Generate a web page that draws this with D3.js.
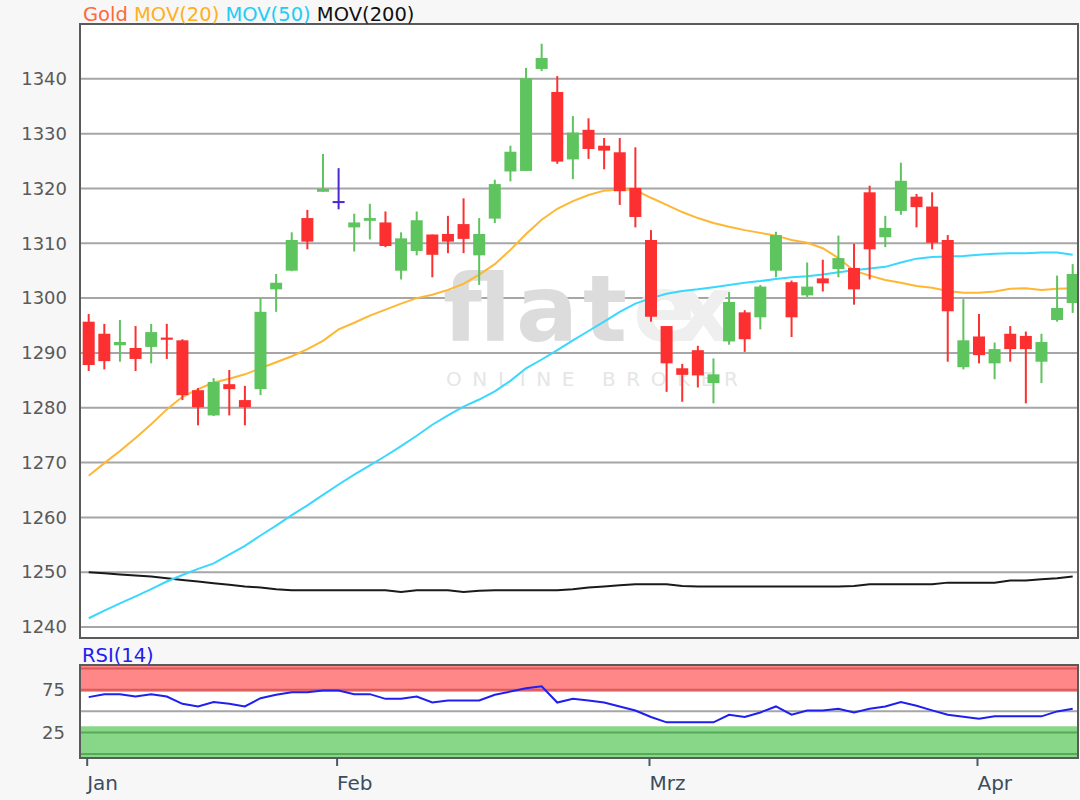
<!DOCTYPE html>
<html>
<head>
<meta charset="utf-8">
<script src="https://cdn.jsdelivr.net/npm/d3@7"></script>
<style>
  body { margin: 0; background: #f7f7f7; }
  text { font-family: "DejaVu Sans", Verdana, sans-serif; }
</style>
</head>
<body>
<script>
// month labels and the candle index where each month starts
var monthLabels = ["Jan", "Feb", "Mrz", "Apr"];
var monthIdx = [0, 16, 36, 57];
var priceTicks = [1240, 1250, 1260, 1270, 1280, 1290, 1300, 1310, 1320, 1330, 1340];
var rsiTicks = [25, 75];

// daily candles (gold, Jan - Apr)
var open = [1295.7, 1293.5, 1291.4, 1290.9, 1291.1, 1292.8, 1292.3, 1283.2, 1278.6, 1284.3,
            1281.4, 1283.4, 1301.6, 1305.0, 1314.6, 1319.4, 1317.7, 1312.9, 1314.1, 1313.8,
            1305.0, 1308.6, 1311.6, 1311.7, 1313.5, 1307.8, 1314.5, 1323.1, 1323.2, 1341.8,
            1337.6, 1325.3, 1330.7, 1327.8, 1326.6, 1320.1, 1310.6, 1294.9, 1287.2, 1290.5,
            1284.5, 1292.1, 1297.4, 1296.5, 1305.0, 1302.9, 1300.5, 1303.6, 1305.3, 1305.5,
            1319.3, 1311.1, 1315.9, 1318.5, 1316.7, 1310.6, 1287.4, 1293.0, 1288.1, 1293.5,
            1293.1, 1288.4, 1296.0, 1299.1];
var high = [1297.1, 1295.3, 1296.0, 1294.9, 1295.3, 1295.3, 1292.5, 1283.6, 1285.4, 1286.9,
            1284.0, 1300.0, 1304.4, 1312.0, 1316.1, 1326.3, 1323.7, 1315.4, 1317.2, 1315.8,
            1312.0, 1315.8, 1311.6, 1315.0, 1318.2, 1314.6, 1321.6, 1327.8, 1342.0, 1346.4,
            1340.5, 1333.2, 1332.8, 1329.2, 1329.2, 1327.5, 1312.4, 1294.9, 1288.0, 1291.3,
            1289.0, 1301.1, 1297.8, 1302.4, 1312.1, 1303.2, 1306.5, 1307.0, 1311.4, 1309.9,
            1320.5, 1315.0, 1324.7, 1319.0, 1319.3, 1311.5, 1299.8, 1297.1, 1291.9, 1294.9,
            1293.9, 1293.5, 1304.1, 1306.2];
var low = [1286.7, 1287.0, 1288.4, 1286.7, 1288.1, 1288.9, 1281.4, 1276.8, 1278.5, 1278.6,
           1276.8, 1282.3, 1297.5, 1304.9, 1308.9, 1319.4, 1316.2, 1308.5, 1310.7, 1309.3,
           1303.4, 1307.8, 1303.8, 1308.2, 1308.2, 1302.4, 1313.7, 1321.3, 1323.2, 1341.4,
           1324.5, 1321.7, 1325.4, 1323.5, 1317.0, 1312.9, 1295.7, 1282.9, 1281.1, 1283.7,
           1280.8, 1291.5, 1290.2, 1294.3, 1303.8, 1292.9, 1300.2, 1301.2, 1303.8, 1298.8,
           1303.4, 1309.3, 1315.2, 1312.9, 1308.9, 1288.4, 1287.0, 1288.1, 1285.2, 1288.4,
           1280.8, 1284.5, 1295.7, 1297.3];
var close = [1287.8, 1288.5, 1292.0, 1288.9, 1293.8, 1292.4, 1282.3, 1280.1, 1284.7, 1283.4,
             1280.1, 1297.5, 1302.8, 1310.6, 1310.3, 1319.9, 1317.7, 1313.8, 1314.6, 1309.5,
             1310.9, 1314.2, 1307.9, 1310.3, 1310.8, 1311.7, 1320.8, 1326.7, 1340.1, 1343.8,
             1324.9, 1330.2, 1327.2, 1326.9, 1319.5, 1314.8, 1296.6, 1288.1, 1286.0, 1285.9,
             1286.1, 1299.3, 1292.5, 1302.1, 1311.5, 1296.5, 1302.1, 1302.7, 1307.3, 1301.6,
             1308.9, 1312.8, 1321.4, 1316.6, 1310.1, 1297.6, 1292.3, 1289.6, 1290.7, 1290.7,
             1290.7, 1292.0, 1298.2, 1304.4];

// moving averages
var mov20 = [1267.6, 1269.9, 1272.1, 1274.5, 1277.0, 1279.7, 1282.0, 1283.4, 1284.6, 1285.3,
             1286.1, 1287.2, 1288.3, 1289.4, 1290.7, 1292.2, 1294.3, 1295.5, 1296.8, 1297.9,
             1299.0, 1300.0, 1300.6, 1301.5, 1302.6, 1304.3, 1306.2, 1308.8, 1311.7, 1314.3,
             1316.3, 1317.7, 1318.8, 1319.6, 1319.8, 1319.7, 1318.3, 1317.0, 1315.7, 1314.6,
             1313.7, 1313.0, 1312.4, 1311.9, 1311.4, 1310.6, 1310.1, 1309.1, 1307.3, 1305.0,
             1304.1, 1303.3, 1302.8, 1302.2, 1301.9, 1301.3, 1301.0, 1301.0, 1301.2, 1301.7,
             1301.8, 1301.5, 1301.7, 1301.8];
var mov50 = [1241.6, 1243.0, 1244.3, 1245.6, 1246.9, 1248.3, 1249.5, 1250.6, 1251.6, 1253.2,
             1254.8, 1256.7, 1258.5, 1260.4, 1262.2, 1264.1, 1266.0, 1267.8, 1269.5, 1271.2,
             1273.0, 1274.9, 1276.9, 1278.6, 1280.2, 1281.5, 1283.0, 1284.9, 1287.2, 1288.8,
             1290.5, 1292.3, 1294.0, 1295.7, 1297.5, 1299.0, 1300.0, 1300.8, 1301.3, 1301.6,
             1302.0, 1302.4, 1302.8, 1303.1, 1303.5, 1303.8, 1304.0, 1304.3, 1304.7, 1305.1,
             1305.4, 1305.7, 1306.5, 1307.2, 1307.5, 1307.6, 1307.7, 1307.9, 1308.1, 1308.2,
             1308.2, 1308.3, 1308.3, 1307.9];
var mov200 = [1250.0, 1249.8, 1249.6, 1249.4, 1249.2, 1248.9, 1248.6, 1248.3, 1248.0, 1247.7,
              1247.4, 1247.2, 1246.9, 1246.7, 1246.7, 1246.7, 1246.7, 1246.7, 1246.7, 1246.7,
              1246.4, 1246.7, 1246.7, 1246.7, 1246.4, 1246.6, 1246.7, 1246.7, 1246.7, 1246.7,
              1246.7, 1246.9, 1247.2, 1247.4, 1247.6, 1247.8, 1247.8, 1247.8, 1247.5, 1247.4,
              1247.4, 1247.4, 1247.4, 1247.4, 1247.4, 1247.4, 1247.4, 1247.4, 1247.4, 1247.5,
              1247.8, 1247.8, 1247.8, 1247.8, 1247.8, 1248.1, 1248.1, 1248.1, 1248.1, 1248.5,
              1248.5, 1248.7, 1248.9, 1249.2];
var rsi14 = [66.5, 70.0, 70.0, 67.2, 70.0, 67.2, 58.7, 55.6, 60.7, 58.7,
             55.6, 65.3, 69.2, 72.3, 72.3, 74.2, 74.2, 70.0, 70.0, 64.5,
             64.5, 67.2, 60.2, 62.6, 62.6, 62.6, 69.2, 73.0, 77.0, 79.3,
             60.2, 64.5, 62.6, 60.2, 55.6, 50.9, 43.3, 37.0, 37.0, 37.0,
             37.0, 45.9, 43.3, 48.6, 55.6, 45.9, 50.9, 50.9, 52.9, 48.6,
             52.9, 55.6, 60.7, 56.4, 51.0, 45.9, 43.5, 41.3, 44.0, 44.0,
             44.0, 44.0, 49.8, 52.9];

var W = 1080, H = 800;
var panel = {left: 80, right: 1078, top: 24, bottom: 638};
var rsiPanel = {top: 665, bottom: 758};

var svg = d3.select("body").append("svg")
    .attr("width", W)
    .attr("height", H);

svg.append("rect").attr("width", W).attr("height", H).attr("fill", "#f7f7f7");

// scales
var x = d3.scaleLinear().domain([0, open.length - 1]).range([88.7, 1072.7]);
var y = d3.scaleLinear().domain([1238, 1350]).range([panel.bottom, panel.top]);
var yr = d3.scaleLinear().domain([-4.7, 104.1]).range([rsiPanel.bottom, rsiPanel.top]);

svg.append("clipPath").attr("id", "clipMain")
  .append("rect")
    .attr("x", panel.left).attr("y", panel.top)
    .attr("width", panel.right - panel.left).attr("height", panel.bottom - panel.top);

// ---- main panel ----
svg.append("rect")
    .attr("x", panel.left).attr("y", panel.top)
    .attr("width", panel.right - panel.left).attr("height", panel.bottom - panel.top)
    .attr("fill", "#fff");

// grid
svg.append("g")
  .selectAll("line")
  .data(priceTicks)
  .enter().append("line")
    .attr("x1", panel.left).attr("x2", panel.right)
    .attr("y1", function(d) { return y(d); })
    .attr("y2", function(d) { return y(d); })
    .attr("stroke", "#a6a6a6")
    .attr("stroke-width", 2);

// watermark
var wm = svg.append("g").attr("class", "watermark")
    .style("font-family", "'Open Sans', sans-serif");
wm.append("text")
    .attr("x", 443).attr("y", 341)
    .attr("font-size", 92)
    .attr("font-weight", 600)
    .attr("textLength", 184)
    .attr("lengthAdjust", "spacing")
    .attr("fill", "#dcdcdc")
    .text("flat");
wm.append("text")
    .attr("x", 633).attr("y", 341)
    .attr("font-size", 92)
    .attr("font-weight", 600)
    .attr("textLength", 100)
    .attr("lengthAdjust", "spacing")
    .attr("fill", "#efefef")
    .text("ex");
wm.append("text")
    .attr("x", 446).attr("y", 386)
    .attr("font-size", 20)
    .attr("textLength", 292)
    .attr("lengthAdjust", "spacing")
    .attr("fill", "#e6e6e6")
    .text("ONLINE BROKER");

// moving averages
function maLine(vals) {
  return d3.line()
    .x(function(d, i) { return x(i); })
    .y(function(d) { return y(d); })(vals);
}
var lines = svg.append("g").attr("clip-path", "url(#clipMain)");
lines.append("path").attr("d", maLine(mov200)).attr("fill", "none").attr("stroke", "#1a1a1a").attr("stroke-width", 2);
lines.append("path").attr("d", maLine(mov50)).attr("fill", "none").attr("stroke", "#3ad7ff").attr("stroke-width", 2);
lines.append("path").attr("d", maLine(mov20)).attr("fill", "none").attr("stroke", "#ffb733").attr("stroke-width", 2);

// candles
function candleColor(i) {
  if (close[i] > open[i]) return "#5ec45e";
  if (close[i] < open[i]) return "#fc3030";
  return "#4b28d2";
}
var candles = svg.append("g").attr("clip-path", "url(#clipMain)")
  .selectAll("g")
  .data(open)
  .enter().append("g");

candles.append("line")
    .attr("x1", function(d, i) { return x(i); })
    .attr("x2", function(d, i) { return x(i); })
    .attr("y1", function(d, i) { return y(high[i]); })
    .attr("y2", function(d, i) { return y(low[i]); })
    .attr("stroke", function(d, i) { return candleColor(i); })
    .attr("stroke-width", 2);

candles.append("rect")
    .attr("x", function(d, i) { return x(i) - 6; })
    .attr("y", function(d, i) { return y(Math.max(open[i], close[i])); })
    .attr("width", 12)
    .attr("height", function(d, i) { return Math.max(2, Math.abs(y(open[i]) - y(close[i]))); })
    .attr("fill", function(d, i) { return candleColor(i); });

// frame
svg.append("rect")
    .attr("x", panel.left).attr("y", panel.top)
    .attr("width", panel.right - panel.left).attr("height", panel.bottom - panel.top)
    .attr("fill", "none").attr("stroke", "#5a5a5a").attr("stroke-width", 2);

// price axis labels
var yAxis = d3.axisLeft(y).tickValues(priceTicks).tickSize(0).tickPadding(0)
    .tickFormat(d3.format("d"));
var yg = svg.append("g")
    .attr("transform", "translate(67,0)")
    .call(yAxis);
yg.select(".domain").remove();
yg.selectAll("text").attr("font-size", 18).attr("fill", "#5a5a5a")
    .style("font-family", "'DejaVu Sans', Verdana, sans-serif");

// legend
var legend = svg.append("text").attr("x", 83).attr("y", 21).attr("font-size", 19.5);
legend.append("tspan").attr("fill", "#ff6a3d").text("Gold ");
legend.append("tspan").attr("fill", "#ffb020").text("MOV(20) ");
legend.append("tspan").attr("fill", "#22ccf5").text("MOV(50) ");
legend.append("tspan").attr("fill", "#111").text("MOV(200)");

// ---- RSI panel ----
svg.append("rect")
    .attr("x", panel.left).attr("y", rsiPanel.top)
    .attr("width", panel.right - panel.left).attr("height", rsiPanel.bottom - rsiPanel.top)
    .attr("fill", "#fff");

// overbought / oversold bands
svg.append("rect")
    .attr("x", panel.left).attr("y", yr(104.1))
    .attr("width", panel.right - panel.left).attr("height", yr(72.7) - yr(104.1))
    .attr("fill", "#ff8787");
svg.append("rect")
    .attr("x", panel.left).attr("y", yr(32.4))
    .attr("width", panel.right - panel.left).attr("height", yr(-4.7) - yr(32.4))
    .attr("fill", "#88d788");

var rsiLines = [{v: 100, c: "#d95a5a"}, {v: 75, c: "#d95a5a"}, {v: 50, c: "#a6a6a6"},
                {v: 25, c: "#57a957"}, {v: 0, c: "#57a957"}];
svg.append("g")
  .selectAll("line")
  .data(rsiLines)
  .enter().append("line")
    .attr("x1", panel.left).attr("x2", panel.right)
    .attr("y1", function(d) { return yr(d.v); })
    .attr("y2", function(d) { return yr(d.v); })
    .attr("stroke", function(d) { return d.c; })
    .attr("stroke-width", 2);

svg.append("path")
    .attr("d", d3.line()
      .x(function(d, i) { return x(i); })
      .y(function(d) { return yr(d); })(rsi14))
    .attr("fill", "none")
    .attr("stroke", "#1f1ff0")
    .attr("stroke-width", 2);

svg.append("rect")
    .attr("x", panel.left).attr("y", rsiPanel.top)
    .attr("width", panel.right - panel.left).attr("height", rsiPanel.bottom - rsiPanel.top)
    .attr("fill", "none").attr("stroke", "#5a5a5a").attr("stroke-width", 2);

svg.append("text")
    .attr("x", 82).attr("y", 662)
    .attr("font-size", 19.5)
    .attr("fill", "#2020f0")
    .text("RSI(14)");

var rAxis = d3.axisLeft(yr).tickValues(rsiTicks).tickSize(0).tickPadding(0);
var rg = svg.append("g")
    .attr("transform", "translate(65,0)")
    .call(rAxis);
rg.select(".domain").remove();
rg.selectAll("text").attr("font-size", 18).attr("fill", "#5a5a5a")
    .style("font-family", "'DejaVu Sans', Verdana, sans-serif");

// time axis
var xAxis = d3.axisBottom(x)
    .tickValues(monthIdx)
    .tickFormat(function(d, i) { return monthLabels[i]; })
    .tickSize(8)
    .tickPadding(10);
var xg = svg.append("g")
    .attr("transform", "translate(-2," + rsiPanel.bottom + ")")
    .call(xAxis);
xg.select(".domain").remove();
xg.selectAll("line").attr("stroke", "#4a5a6a").attr("stroke-width", 2);
xg.selectAll("text")
    .attr("font-size", 20)
    .attr("fill", "#3b4d5e")
    .attr("text-anchor", "start")
    .style("font-family", "'DejaVu Sans', Verdana, sans-serif");
</script>
</body>
</html>
